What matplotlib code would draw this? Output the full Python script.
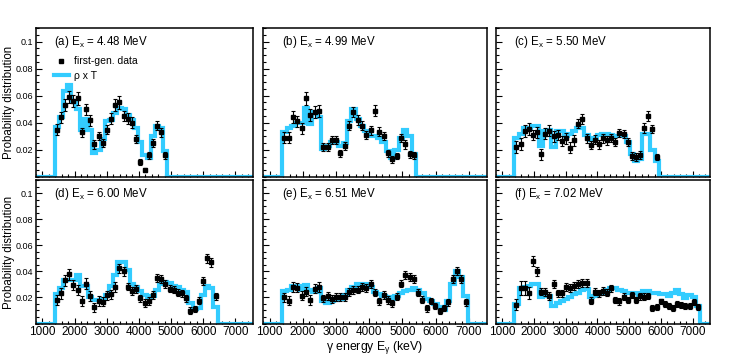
import numpy as np
import matplotlib
matplotlib.use('Agg')
import matplotlib.pyplot as plt
from matplotlib.ticker import MultipleLocator, FixedLocator, FixedFormatter
from matplotlib.lines import Line2D

plt.rcParams['font.family'] = ['Liberation Sans', 'DejaVu Sans']
plt.rcParams['mathtext.fontset'] = 'custom'
plt.rcParams['mathtext.rm'] = 'Liberation Sans'
plt.rcParams['mathtext.it'] = 'Liberation Sans:italic'

# binning of the gamma spectra (keV)
bin_width = 130
first_edge = 1380
x_range = (800, 7550)

panel_tags = ['(a)', '(b)', '(c)', '(d)', '(e)', '(f)']
ex_values = ['4.48', '4.99', '5.50', '6.00', '6.51', '7.02']

# first-generation data
data_a = [0.035, 0.044, 0.053, 0.059, 0.056, 0.058, 0.033, 0.050, 0.042, 0.024,
          0.030, 0.025, 0.035, 0.043, 0.053, 0.055, 0.045, 0.043, 0.040, 0.028,
          0.011, 0.005, 0.016, 0.025, 0.038, 0.033, 0.016]
err_a = [0.004, 0.004, 0.0045, 0.0045, 0.0045, 0.0045, 0.0035, 0.004, 0.004, 0.003,
         0.003, 0.003, 0.0035, 0.004, 0.0045, 0.0045, 0.004, 0.004, 0.004, 0.003,
         0.0025, 0.0015, 0.0025, 0.003, 0.0035, 0.0035, 0.0025]
data_b = [0.029, 0.029, 0.044, 0.041, 0.036, 0.058, 0.046, 0.048, 0.049, 0.022,
          0.022, 0.027, 0.027, 0.0175, 0.023, 0.038, 0.048, 0.042, 0.038, 0.031,
          0.0345, 0.049, 0.0335, 0.030, 0.0175, 0.013, 0.0155, 0.0285, 0.024, 0.0167,
          0.016]
err_b = [0.004, 0.004, 0.0045, 0.004, 0.004, 0.0045, 0.0045, 0.0045, 0.0045, 0.003,
         0.003, 0.003, 0.003, 0.0025, 0.003, 0.0035, 0.004, 0.0035, 0.0035, 0.003,
         0.0035, 0.004, 0.0035, 0.003, 0.0025, 0.0025, 0.0025, 0.003, 0.003, 0.0025,
         0.0025]
data_c = [0.0224, 0.0241, 0.034, 0.0354, 0.031, 0.033, 0.0167, 0.032, 0.0342, 0.030,
          0.031, 0.0266, 0.0285, 0.0217, 0.027, 0.0394, 0.0428, 0.0285, 0.0236, 0.0276,
          0.0241, 0.0285, 0.027, 0.0285, 0.026, 0.0327, 0.0317, 0.0256, 0.0157, 0.0148,
          0.0162, 0.036, 0.045, 0.0354, 0.0148]
err_c = [0.0045, 0.0045, 0.0045, 0.0045, 0.004, 0.004, 0.004, 0.004, 0.004, 0.004,
         0.004, 0.004, 0.004, 0.004, 0.004, 0.0035, 0.0035, 0.0035, 0.003, 0.0035,
         0.0035, 0.0035, 0.0035, 0.003, 0.003, 0.003, 0.003, 0.003, 0.003, 0.003,
         0.003, 0.0035, 0.0035, 0.003, 0.0025]
data_d = [0.018, 0.023, 0.033, 0.0376, 0.0295, 0.0255, 0.0174, 0.0306, 0.0212, 0.0124,
          0.0172, 0.0167, 0.0217, 0.0225, 0.028, 0.0424, 0.040, 0.0283, 0.025, 0.0263,
          0.0192, 0.0154, 0.0172, 0.0217, 0.0348, 0.0343, 0.030, 0.0268, 0.0258, 0.0237,
          0.023, 0.0194, 0.0098, 0.011, 0.0174, 0.0326, 0.050, 0.047, 0.0207]
err_d = [0.004, 0.004, 0.004, 0.0045, 0.004, 0.004, 0.004, 0.004, 0.004, 0.0035,
         0.0035, 0.0035, 0.0035, 0.0035, 0.0035, 0.0035, 0.0035, 0.003, 0.003, 0.003,
         0.003, 0.003, 0.003, 0.003, 0.003, 0.003, 0.003, 0.0028, 0.0028, 0.0028,
         0.0028, 0.0028, 0.0025, 0.0025, 0.0028, 0.003, 0.0035, 0.0035, 0.003]
data_e = [0.020, 0.0174, 0.028, 0.0275, 0.0212, 0.0245, 0.018, 0.0268, 0.028, 0.0192,
          0.0212, 0.0187, 0.020, 0.020, 0.020, 0.0242, 0.0255, 0.026, 0.028, 0.0275,
          0.030, 0.0237, 0.0169, 0.022, 0.018, 0.0154, 0.0205, 0.0306, 0.0371, 0.0356,
          0.0343, 0.0235, 0.0182, 0.0116, 0.0174, 0.0136, 0.0098, 0.0119, 0.0162, 0.0338,
          0.040, 0.0343, 0.0162]
err_e = [0.0035, 0.0035, 0.0035, 0.0035, 0.0035, 0.0035, 0.0035, 0.0035, 0.0035, 0.003,
         0.003, 0.003, 0.003, 0.003, 0.003, 0.003, 0.003, 0.003, 0.003, 0.003,
         0.003, 0.003, 0.003, 0.003, 0.0028, 0.0028, 0.0028, 0.003, 0.003, 0.003,
         0.003, 0.0028, 0.0025, 0.0025, 0.0025, 0.0022, 0.0022, 0.0022, 0.0025, 0.003,
         0.003, 0.003, 0.0025]
data_f = [0.0144, 0.027, 0.027, 0.0235, 0.0477, 0.040, 0.0245, 0.024, 0.0212, 0.030,
          0.023, 0.023, 0.028, 0.027, 0.029, 0.030, 0.0313, 0.0313, 0.0174, 0.0245,
          0.023, 0.025, 0.0237, 0.027, 0.0179, 0.0169, 0.0205, 0.0179, 0.022, 0.0179,
          0.0207, 0.0205, 0.0212, 0.0116, 0.0129, 0.0169, 0.0149, 0.0134, 0.0119, 0.0149,
          0.0144, 0.0134, 0.0134, 0.0167, 0.0129]
err_f = [0.004, 0.0055, 0.0055, 0.0045, 0.004, 0.0035, 0.003, 0.003, 0.003, 0.003,
         0.003, 0.003, 0.003, 0.003, 0.003, 0.003, 0.003, 0.003, 0.0028, 0.0028,
         0.0028, 0.0028, 0.0028, 0.0028, 0.0025, 0.0025, 0.0025, 0.0025, 0.0025, 0.0025,
         0.0025, 0.0025, 0.0025, 0.0022, 0.0022, 0.0022, 0.0022, 0.0022, 0.0022, 0.0022,
         0.0022, 0.0022, 0.0022, 0.0022, 0.0022]

# rho x T calculation (histogram per bin)
fit_a = [0.037, 0.0445, 0.0635, 0.068, 0.056, 0.050, 0.035, 0.043, 0.035, 0.018,
         0.020, 0.028, 0.041, 0.042, 0.047, 0.051, 0.050, 0.046, 0.042, 0.036,
         0.026, 0.016, 0.014, 0.030, 0.038, 0.036, 0.019]
fit_b = [0.033, 0.036, 0.038, 0.040, 0.040, 0.051, 0.039, 0.048, 0.0445, 0.021,
         0.023, 0.026, 0.026, 0.023, 0.025, 0.041, 0.050, 0.043, 0.038, 0.034,
         0.030, 0.030, 0.029, 0.026, 0.019, 0.014, 0.020, 0.0285, 0.035, 0.030,
         0.017]
fit_c = [0.029, 0.032, 0.036, 0.036, 0.038, 0.038, 0.023, 0.034, 0.035, 0.022,
         0.034, 0.034, 0.030, 0.032, 0.034, 0.036, 0.036, 0.031, 0.027, 0.029,
         0.031, 0.032, 0.032, 0.031, 0.030, 0.030, 0.030, 0.026, 0.017, 0.012,
         0.013, 0.032, 0.032, 0.020, 0.012]
fit_d = [0.0225, 0.027, 0.033, 0.033, 0.033, 0.037, 0.029, 0.029, 0.020, 0.018,
         0.018, 0.019, 0.022, 0.029, 0.037, 0.047, 0.047, 0.041, 0.030, 0.028,
         0.025, 0.022, 0.020, 0.021, 0.026, 0.030, 0.032, 0.031, 0.029, 0.028,
         0.026, 0.024, 0.016, 0.011, 0.012, 0.022, 0.029, 0.027, 0.013]
fit_e = [0.025, 0.0255, 0.0285, 0.0285, 0.026, 0.0295, 0.026, 0.0245, 0.0275, 0.0174,
         0.016, 0.0174, 0.018, 0.019, 0.022, 0.026, 0.028, 0.0306, 0.0306, 0.0306,
         0.028, 0.0245, 0.0225, 0.021, 0.020, 0.0187, 0.021, 0.0237, 0.025, 0.026,
         0.0275, 0.026, 0.023, 0.0187, 0.0174, 0.015, 0.0124, 0.0104, 0.0174, 0.030,
         0.040, 0.036, 0.021]
fit_f = [0.015, 0.0275, 0.028, 0.0288, 0.030, 0.0305, 0.020, 0.0212, 0.0212, 0.0136,
         0.016, 0.0169, 0.0187, 0.0205, 0.0225, 0.0237, 0.0255, 0.0268, 0.020, 0.0212,
         0.0225, 0.0237, 0.0255, 0.027, 0.0275, 0.026, 0.025, 0.0237, 0.0237, 0.023,
         0.022, 0.025, 0.025, 0.0237, 0.023, 0.0225, 0.0225, 0.0212, 0.023, 0.0255,
         0.0225, 0.0194, 0.022, 0.0205, 0.0136]

all_data = [data_a, data_b, data_c, data_d, data_e, data_f]
all_err = [err_a, err_b, err_c, err_d, err_e, err_f]
all_fit = [fit_a, fit_b, fit_c, fit_d, fit_e, fit_f]

y_ticks = [0.02, 0.04, 0.06, 0.08, 0.1]
y_tick_labels = ['0.02', '0.04', '0.06', '0.08', '0.1']
x_ticks = [1000, 2000, 3000, 4000, 5000, 6000, 7000]

blue = '#33ccff'

W, H = 747, 356
fig = plt.figure(figsize=(W / 100, H / 100), dpi=100)

# pad frames in pixels: (left, width)
cols = [(36, 217), (263, 224), (496, 214)]
rows = [(28, 149), (180, 143.5)]

for i in range(6):
    r, c = divmod(i, 3)
    left, width = cols[c]
    top, height = rows[r]
    ax = fig.add_axes([left / W, 1 - (top + height) / H, width / W, height / H])

    n = len(all_fit[i])
    edges = first_edge + bin_width * np.arange(n + 1)
    centers = 0.5 * (edges[:-1] + edges[1:])
    hist_edges = np.concatenate([[x_range[0]], edges, [x_range[1]]])
    hist_vals = np.concatenate([[0], all_fit[i], [0]])

    ax.stairs(hist_vals, hist_edges, baseline=None, color=blue, lw=3.0, zorder=2)
    ax.errorbar(centers, all_data[i], yerr=all_err[i], fmt='s', color='black',
                ms=3, elinewidth=0.8, capsize=1.3, capthick=0.8, zorder=3)

    ax.set_xlim(*x_range)
    ax.set_ylim(0, 0.11)
    ax.xaxis.set_major_locator(FixedLocator(x_ticks))
    ax.xaxis.set_minor_locator(MultipleLocator(200))
    ax.yaxis.set_major_locator(FixedLocator(y_ticks))
    ax.yaxis.set_minor_locator(MultipleLocator(0.005))
    ax.tick_params(which='both', direction='in', top=False, right=False)
    ax.tick_params(which='major', length=4, width=0.8)
    ax.tick_params(which='minor', length=2, width=0.8)
    ax.tick_params(axis='x', labelsize=8.5, pad=1.5)
    ax.tick_params(axis='y', labelsize=6.5, pad=2)
    for s in ax.spines.values():
        s.set_linewidth(1.1)
        s.set_zorder(4)

    if c == 0:
        ax.yaxis.set_major_formatter(FixedFormatter(y_tick_labels))
    else:
        ax.set_yticklabels([])
    if r == 0:
        ax.set_xticklabels([])

    ax.text(0.085, 0.905, panel_tags[i] + ' E$_{\\mathregular{x}}$ = ' + ex_values[i] + ' MeV',
            transform=ax.transAxes, fontsize=8.3, va='center', ha='left')

    if i == 0:
        handles = [Line2D([], [], marker='s', ls='none', color='black', ms=3),
                   Line2D([], [], color=blue, lw=3.0)]
        ax.legend(handles, ['first-gen. data', 'ρ x T'], loc='upper left',
                  bbox_to_anchor=(0.05, 0.86), frameon=False, fontsize=7.5,
                  handlelength=1.4, handletextpad=0.5, labelspacing=0.45,
                  borderpad=0.2)

fig.text(9 / W, 1 - 102 / H, 'Probability distribution', rotation=90,
         ha='center', va='center', fontsize=8.3)
fig.text(9 / W, 1 - 252 / H, 'Probability distribution', rotation=90,
         ha='center', va='center', fontsize=8.3)
fig.text(375 / W, 1 - 347 / H, 'γ energy E$_{\\mathregular{γ}}$ (keV)',
         ha='center', va='center', fontsize=8.8)

fig.savefig('out.png', dpi=100)
